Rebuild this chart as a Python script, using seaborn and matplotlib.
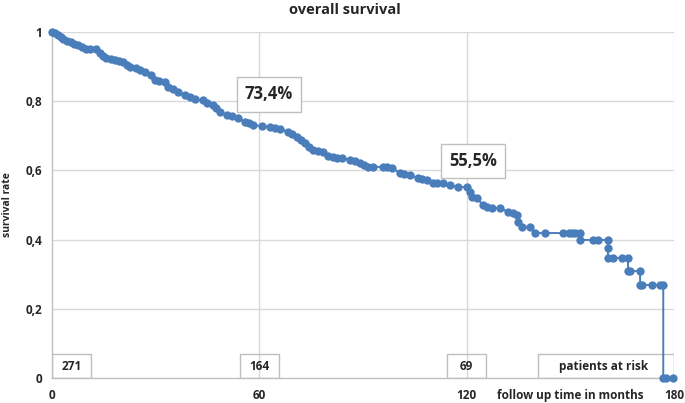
import matplotlib
matplotlib.use("Agg")
import matplotlib.pyplot as plt
import seaborn as sns
import pandas as pd
from matplotlib.patches import Rectangle

# Kaplan-Meier curve (months, survival rate)
months = [0, 1, 1.7, 2.5, 3.2, 4.3, 5.5, 6.5, 7.5, 8.6,
          9.8, 11, 12.7, 13.9, 14.8, 15.6, 17, 18.2, 19.4, 20.5,
          21.6, 22.6, 24.3, 25.5, 26.9, 28.7, 29.8, 31, 32.7, 33.6,
          35, 36.5, 38.5, 40, 41.4, 43.7, 45, 46.6, 47.6, 48.6,
          50.7, 52, 53.8, 55.9, 57, 58.2, 60.8, 63.1, 64.5, 66,
          68.3, 69.5, 70.9, 72, 73.2, 74.4, 75.5, 77, 78.4, 79.9,
          81.3, 82.5, 83.9, 86.3, 87.7, 89.1, 90.3, 91.5, 92.9, 95.8,
          97, 98.4, 100.7, 102, 103.6, 105.9, 107, 108.5, 110.3, 111.5,
          113.2, 115.2, 117.5, 120.1, 121, 121.6, 123, 124.7, 126, 127.4,
          129.7, 132, 133.3, 134.6, 134.9, 136, 138.4, 139.8, 142.7, 147.9,
          149.5, 150.5, 151.5, 152.8, 152.8, 156.6, 158, 160.9, 160.9, 160.9,
          162.4, 165, 166.7, 166.7, 167.3, 170.2, 170.2, 170.8, 173.7, 176,
          176.9, 176.9, 177.7, 179.7]
survival = [1.0, .996, .991, .986, .980, .975, .971, .966, .962, .957,
            .951, .951, .951, .939, .932, .925, .922, .919, .916, .913,
            .906, .899, .896, .890, .884, .876, .861, .858, .855, .841,
            .834, .827, .818, .812, .806, .803, .796, .789, .779, .769,
            .760, .756, .751, .740, .736, .731, .728, .725, .723, .720,
            .711, .705, .697, .688, .679, .669, .659, .656, .653, .642,
            .640, .636, .636, .630, .626, .621, .616, .610, .610, .610,
            .609, .607, .592, .590, .587, .578, .575, .572, .564, .564,
            .564, .558, .552, .552, .538, .523, .520, .500, .495, .491,
            .491, .480, .476, .471, .451, .436, .436, .419, .419, .419,
            .419, .419, .419, .419, .399, .399, .399, .399, .376, .347,
            .347, .347, .347, .309, .309, .309, .269, .269, .269, .269,
            .269, 0, 0, 0]

# patients at risk under the curve
risk_months = [0, 60, 120]
risk_counts = ["271", "164", "69"]

# survival rates quoted at 5 and 10 years
rate_months = [60, 120]
rate_labels = ["73,4%", "55,5%"]

blue = "#4a7ebb"
grid = "#d9d9d9"

sns.set_style("white")
plt.rcParams["font.family"] = ["Open Sans", "DejaVu Sans"]

df = pd.DataFrame({"months": months, "survival": survival})

fig = plt.figure(figsize=(6.85, 4.03), dpi=100)
ax = fig.add_axes([0.0759, 0.062, 0.908, 0.8586])

sns.lineplot(data=df, x="months", y="survival", ax=ax, sort=False,
             estimator=None, color=blue, linewidth=1.4, marker="o",
             markersize=6, markeredgewidth=0, zorder=5, clip_on=False)

ax.set_xlim(0, 180)
ax.set_ylim(0, 1)
ax.set_xticks([0, 60, 120, 180])
ax.set_yticks([0, 0.2, 0.4, 0.6, 0.8, 1])
ax.set_yticklabels(["0", "0,2", "0,4", "0,6", "0,8", "1"])
ax.tick_params(length=0, labelsize=8.5)
ax.tick_params(axis="y", pad=7)
ax.tick_params(axis="x", pad=8)
for lab in ax.get_xticklabels() + ax.get_yticklabels():
    lab.set_fontweight("bold")

for x in [60, 120, 180]:
    ax.axvline(x, color=grid, linewidth=1, zorder=0)
for y in [0.2, 0.4, 0.6, 0.8, 1.0]:
    ax.axhline(y, color=grid, linewidth=1, zorder=0)

for side in ["top", "right"]:
    ax.spines[side].set_visible(False)
for side in ["left", "bottom"]:
    ax.spines[side].set_color("#bfbfbf")
    ax.spines[side].set_linewidth(1)

ax.set_xlabel("")
ax.set_ylabel("survival rate", fontsize=7.5, fontweight="bold", labelpad=9)
fig.text(0.504, 0.975, "overall survival", ha="center", va="center",
         fontsize=10.5, fontweight="bold")

# risk table boxes along the x axis
box_w = 11.2
box_h = 0.069
for m, c in zip(risk_months, risk_counts):
    x0 = m if m == 0 else m - box_w / 2
    ax.add_patch(Rectangle((x0, 0), box_w, box_h, fill=False,
                           edgecolor="#bfbfbf", linewidth=1, zorder=3))
    ax.text(x0 + box_w / 2, box_h / 2, c, ha="center", va="center",
            fontsize=8.5, fontweight="bold", zorder=4)
ax.add_patch(Rectangle((140.7, 0), 39.3, box_h, fill=False,
                       edgecolor="#bfbfbf", linewidth=1, zorder=3))
ax.text(159.5, box_h / 2, "patients at risk", ha="center", va="center",
        fontsize=8.5, fontweight="bold", zorder=4)

ax.text(171.3, -0.05, "follow up time in months", ha="right", va="center",
        fontsize=8.5, fontweight="bold", clip_on=False)

# quoted survival rates
rate_pos = [(62.8, 0.82), (121.9, 0.627)]
for (x, y), lab in zip(rate_pos, rate_labels):
    ax.text(x, y, lab, ha="center", va="center", fontsize=12,
            fontweight="bold", zorder=6,
            bbox=dict(boxstyle="square,pad=0.5", fc="white",
                      ec="#bfbfbf", lw=1))

fig.savefig("out.png", dpi=100)
